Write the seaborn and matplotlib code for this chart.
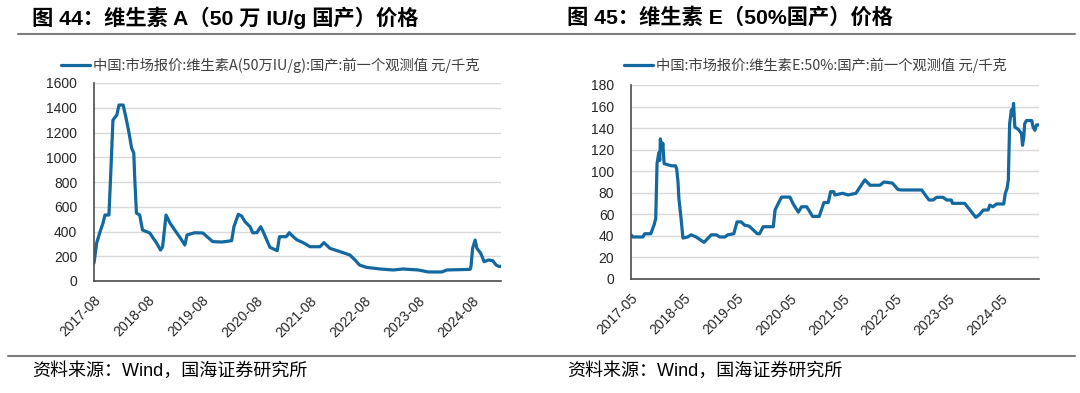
import matplotlib
matplotlib.use("Agg")
import matplotlib.pyplot as plt
import matplotlib.dates as mdates
from matplotlib.lines import Line2D
import pandas as pd
import seaborn as sns

# 维生素A（50万IU/g 国产）价格，元/千克
va_dates = [
    "2017-08-01", "2017-08-19", "2017-09-10", "2017-10-01", "2017-10-14", "2017-11-10",
    "2017-11-21", "2017-12-05", "2017-12-07", "2018-01-02", "2018-01-17", "2018-02-14",
    "2018-03-04", "2018-03-26", "2018-04-12", "2018-04-27", "2018-05-04", "2018-05-15",
    "2018-06-06", "2018-06-25", "2018-08-13", "2018-09-28", "2018-10-25", "2018-11-08",
    "2018-12-01", "2018-12-28", "2019-02-06", "2019-03-08", "2019-04-07", "2019-04-22",
    "2019-06-13", "2019-08-07", "2019-10-13", "2019-12-15", "2020-02-18", "2020-03-04",
    "2020-04-03", "2020-04-25", "2020-05-18", "2020-06-21", "2020-07-09", "2020-08-06",
    "2020-09-01", "2020-09-18", "2020-10-12", "2020-11-03", "2020-12-22", "2021-01-06",
    "2021-02-21", "2021-03-13", "2021-04-09", "2021-05-06", "2021-06-15", "2021-08-01",
    "2021-10-07", "2021-11-03", "2021-12-13", "2022-02-20", "2022-04-27", "2022-06-01",
    "2022-07-01", "2022-08-18", "2022-11-18", "2023-02-15", "2023-04-22", "2023-08-03",
    "2023-10-10", "2024-01-09", "2024-02-12", "2024-07-18", "2024-07-24", "2024-08-04",
    "2024-08-21", "2024-09-02", "2024-09-28", "2024-10-21", "2024-11-20", "2024-12-18",
    "2025-01-10", "2025-02-01", "2025-02-12",
]
va_price = [
    145, 307, 395, 468, 533, 533,
    832, 1236, 1300, 1341, 1422, 1422,
    1327, 1196, 1075, 1034, 816, 549,
    533, 412, 388, 307, 250, 277,
    533, 468, 398, 347, 291, 372,
    390, 388, 318, 315, 326, 439,
    539, 525, 479, 439, 390, 390,
    439, 398, 331, 272, 245, 358,
    358, 390, 358, 331, 310, 277,
    277, 310, 264, 237, 210, 170,
    129, 110, 97, 89, 97, 89,
    73, 73, 89, 94, 116, 264,
    331, 264, 224, 156, 170, 164,
    129, 116, 120,
]

# 维生素E（50% 国产）价格，元/千克
ve_dates = [
    "2017-05-01", "2017-05-13", "2017-07-22", "2017-08-04", "2017-09-15", "2017-10-07",
    "2017-10-19", "2017-10-28", "2017-11-09", "2017-11-16", "2017-11-20", "2017-12-02",
    "2017-12-07", "2017-12-16", "2018-02-05", "2018-03-05", "2018-03-13", "2018-03-22",
    "2018-03-28", "2018-04-13", "2018-04-25", "2018-05-28", "2018-06-21", "2018-07-25",
    "2018-09-18", "2018-11-07", "2018-12-12", "2019-01-04", "2019-02-09", "2019-03-01",
    "2019-04-12", "2019-05-04", "2019-06-01", "2019-06-25", "2019-07-28", "2019-09-21",
    "2019-10-07", "2019-11-01", "2020-01-10", "2020-01-22", "2020-02-13", "2020-03-07",
    "2020-05-04", "2020-05-25", "2020-07-01", "2020-07-23", "2020-08-28", "2020-10-08",
    "2020-11-22", "2020-12-25", "2021-01-24", "2021-02-09", "2021-03-03", "2021-03-10",
    "2021-05-03", "2021-06-10", "2021-08-03", "2021-08-25", "2021-10-04", "2021-11-09",
    "2022-01-16", "2022-02-13", "2022-04-12", "2022-05-21", "2022-06-13", "2022-11-01",
    "2022-12-04", "2022-12-22", "2023-01-19", "2023-02-12", "2023-03-28", "2023-04-22",
    "2023-05-25", "2023-06-01", "2023-08-25", "2023-10-10", "2023-11-10", "2023-12-03",
    "2024-01-01", "2024-02-03", "2024-02-15", "2024-03-07", "2024-04-01", "2024-05-21",
    "2024-06-01", "2024-06-13", "2024-06-22", "2024-07-01", "2024-07-13", "2024-07-21",
    "2024-07-28", "2024-08-06", "2024-08-28", "2024-09-21", "2024-09-28", "2024-10-07",
    "2024-10-13", "2024-10-25", "2024-12-01", "2024-12-10", "2024-12-22", "2025-01-03",
    "2025-01-20",
]
ve_price = [
    41, 39, 39, 42, 42, 50,
    56, 107, 117, 110, 130, 120,
    126, 107, 105, 105, 102, 90,
    75, 55, 38, 39, 41, 39,
    34, 41, 41, 39, 39, 41,
    42, 53, 53, 50, 49, 42,
    42, 48.5, 48.5, 64, 70, 76,
    76, 70, 62, 67, 67, 58,
    58, 71, 71, 81, 81, 78,
    79.5, 78, 79.5, 84, 92, 87,
    87, 90, 89, 83, 82.6, 82.6,
    76.4, 73.3, 73.3, 75.8, 75.8, 73.3,
    73.3, 70.2, 70.2, 62.4, 57.2, 59.4,
    64, 64, 68.6, 67, 69.6, 69.6,
    79.5, 84, 92, 144, 157, 152,
    163, 141, 139, 135, 124, 132,
    144, 147, 147, 141, 138, 143,
    143,
]

va_label = "中国:市场报价:维生素A(50万IU/g):国产:前一个观测值 元/千克"
ve_label = "中国:市场报价:维生素E:50%:国产:前一个观测值 元/千克"
titles = ["图 44：维生素 A（50 万 IU/g 国产）价格", "图 45：维生素 E（50%国产）价格"]
source = "资料来源：Wind，国海证券研究所"

sns.set_theme(style="white")
plt.rcParams["font.family"] = ["Liberation Sans", "Noto Sans CJK SC", "DejaVu Sans"]

line_color = "#12689f"
grid_color = "#d9d9d9"
axis_color = "#4d4d4d"
cjk = ["Noto Sans CJK SC", "DejaVu Sans"]

fig = plt.figure(figsize=(10.8, 3.93), dpi=100)

va = pd.DataFrame({"date": pd.to_datetime(va_dates), "price": va_price})
ve = pd.DataFrame({"date": pd.to_datetime(ve_dates), "price": ve_price})

panels = [
    dict(df=va, rect=[94 / 1080, 1 - 281 / 393, 407 / 1080, 198 / 393],
         xlim=("2017-08-01", "2025-02-12"), ylim=(0, 1600), ystep=200, month=8,
         label=va_label, leg_x=62 / 1080),
    dict(df=ve, rect=[631 / 1080, 1 - 279 / 393, 408 / 1080, 194 / 393],
         xlim=("2017-05-01", "2025-01-20"), ylim=(0, 180), ystep=20, month=5,
         label=ve_label, leg_x=625 / 1080),
]

for p in panels:
    ax = fig.add_axes(p["rect"])
    sns.lineplot(data=p["df"], x="date", y="price", ax=ax, color=line_color,
                 linewidth=2.3, legend=False)
    ax.set_xlim(pd.Timestamp(p["xlim"][0]), pd.Timestamp(p["xlim"][1]))
    ax.set_ylim(*p["ylim"])
    ax.set_yticks(range(p["ylim"][0], p["ylim"][1] + 1, p["ystep"]))
    ax.xaxis.set_major_locator(mdates.MonthLocator(bymonth=p["month"]))
    ax.xaxis.set_major_formatter(mdates.DateFormatter("%Y-%m"))
    ax.set_xlabel("")
    ax.set_ylabel("")
    ax.yaxis.grid(True, color=grid_color, linewidth=1.0)
    ax.set_axisbelow(True)
    for side in ("top", "right"):
        ax.spines[side].set_visible(False)
    for side in ("left", "bottom"):
        ax.spines[side].set_color(axis_color)
        ax.spines[side].set_linewidth(1.2)
    ax.tick_params(axis="both", direction="in", length=4, width=1, color=axis_color,
                   labelsize=10, labelcolor="#262626")
    ax.tick_params(axis="y", length=3, pad=12)
    ax.tick_params(axis="x", pad=9)
    for lab in ax.get_xticklabels():
        lab.set_rotation(45)
        lab.set_ha("right")
        lab.set_rotation_mode("anchor")

    handle = Line2D([], [], color=line_color, linewidth=2.3)
    fig.legend([handle], [p["label"]], loc="center left",
               bbox_to_anchor=(p["leg_x"] - 0.006, 1 - 65 / 393), frameon=False,
               handlelength=2.0, handletextpad=0.2, borderaxespad=0,
               prop={"family": cjk, "size": 10.3}, labelcolor="#404040")

# titles and rules
fig.text(32 / 1080, 1 - 18 / 393, titles[0], fontsize=15.3, fontweight="bold",
         va="center", ha="left", color="#000000")
fig.text(567 / 1080, 1 - 18 / 393, titles[1], fontsize=15.3, fontweight="bold",
         va="center", ha="left", color="#000000")
fig.add_artist(Line2D([18 / 1080, 1075 / 1080], [1 - 34 / 393, 1 - 34 / 393],
                      color="#7f7f7f", linewidth=1.5))
fig.add_artist(Line2D([8 / 1080, 1075 / 1080], [1 - 356 / 393, 1 - 356 / 393],
                      color="#7f7f7f", linewidth=1.5))
fig.text(32 / 1080, 1 - 371 / 393, source, fontsize=13, va="center", ha="left",
         family=["Liberation Sans", "Noto Sans CJK SC"], color="#000000")
fig.text(567 / 1080, 1 - 371 / 393, source, fontsize=13, va="center", ha="left",
         family=["Liberation Sans", "Noto Sans CJK SC"], color="#000000")

fig.savefig("out.png", dpi=100)
